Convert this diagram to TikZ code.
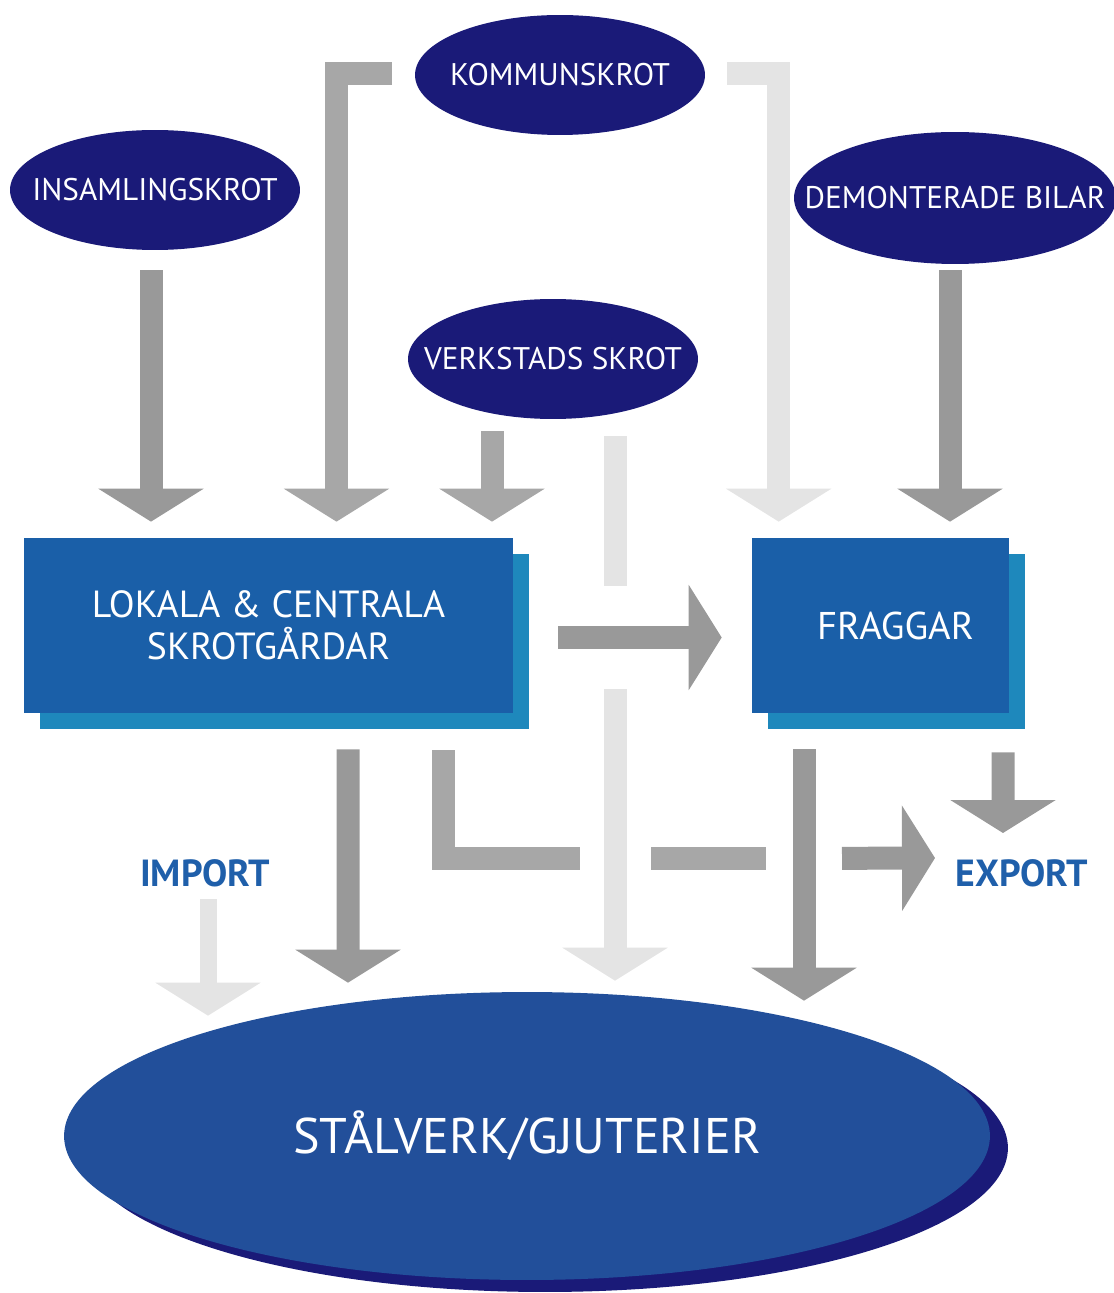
\documentclass[tikz,border=0pt]{standalone}
\usepackage{fontspec}
\setmainfont{PT Sans}
\usepackage{tikz}
\usetikzlibrary{shapes,arrows.meta,calc,shadows}
\definecolor{navy}{RGB}{26,26,120}
\definecolor{boxblue}{RGB}{26,95,168}
\definecolor{boxshade}{RGB}{30,136,188}
\definecolor{bigblue}{RGB}{34,79,154}
\definecolor{labelblue}{RGB}{31,95,170}
\definecolor{grdark}{RGB}{153,153,153}
\definecolor{grmid}{RGB}{167,167,167}
\definecolor{grlight}{RGB}{228,228,228}
\tikzstyle{source}=[ellipse,fill=navy,text=white,inner sep=0pt,minimum width=5.8cm,minimum height=2.4cm,font=\fontsize{17.8}{20}\selectfont]
\tikzstyle{yard}=[rectangle,fill=boxblue,text=white,minimum height=3.5cm,align=center,general shadow={fill=boxshade,shadow xshift=0.32cm,shadow yshift=-0.32cm},font=\fontsize{21.5}{24}\selectfont]
\tikzstyle{fat}=[line width=0.46cm,-{Triangle[length=0.66cm,width=2.08cm]}]
\tikzstyle{bar}=[line width=0.46cm]
\tikzstyle{trade}=[text=labelblue,font=\bfseries\fontsize{21.5}{24}\selectfont]
\tikzset{halo/.style={preaction={draw=white,line width=#1}}}
\newcommand{\nowidth}[1]{\makebox[0pt]{#1}}

\begin{document}
\begin{tikzpicture}[x=0.02cm,y=-0.02cm]
\useasboundingbox (0,0) rectangle (1113,1293);
\node[ellipse,fill=bigblue,text=white,minimum width=18.52cm,minimum height=5.76cm,
  general shadow={fill=navy,shadow xshift=0.36cm,shadow yshift=-0.24cm},
  font=\fontsize{28.5}{32}\selectfont] (stal) at (527,1136) {STÅLVERK/GJUTERIER};
\node[source] (kommun) at (560,75) {\nowidth{KOMMUNSKROT}};
\node[source] (insaml) at (155,190) {\nowidth{INSAMLINGSKROT}};
\node[source,minimum width=6.44cm,minimum height=2.64cm] (demont) at (955,198) {\nowidth{DEMONTERADE BILAR}};
\node[source] (verkst) at (553,359) {\nowidth{VERKSTADS SKROT}};
\node[yard,minimum width=9.78cm] (lokal) at (268.5,625.5) {LOKALA \& CENTRALA\\SKROTGÅRDAR};
\node[yard,minimum width=5.14cm,font=\fontsize{22}{24}\selectfont] (fragg) at (880.5,625.5) {\hspace*{0.6cm}FRAGGAR};
\node[trade] (import) at (205,873) {IMPORT};
\node[trade] (export) at (1022,873) {EXPORT};

% into the yards
\draw[fat,grdark,shorten >=0.32cm] ($(insaml.south)+(-4,20)$) coordinate (a1) -- (a1 |- lokal.north);
\draw[fat,grmid,shorten >=0.32cm] ($(kommun.west)+(-23,-1)$) -| ($(lokal.north)+(68,0)$);
\draw[fat,grmid,shorten >=0.32cm] ($(verkst.south)+(-61,12)$) coordinate (a3) -- (a3 |- lokal.north);
\draw[fat,grlight,shorten >=0.32cm] ($(kommun.east)+(22,-1)$) -| ($(fragg.north west)+(27,0)$);
\draw[fat,grdark,shorten >=0.32cm] ($(demont.south)+(-5,6)$) coordinate (a6) -- (a6 |- fragg.north);

% down to the works
\draw[bar,grmid] ($(lokal.south)+(174.5,37)$) |- ($(fragg.south)+(-38.5,145)$) coordinate (split);
\draw[fat,grlight,halo=1.42cm] ($(verkst.south)+(62,17)$) -- ($(stal.north)+(88,-11)$);
\draw[fat,grdark,halo=2.06cm] ($(lokal.east)+(45,12)$) -- ($(fragg.west)+(-30,12)$);
\draw[fat,grdark,halo=1.52cm] ($(fragg.south)+(-76.5,36)$) -- ($(stal.north)+(277,9)$);
\draw[fat,grdark] (split) -- ($(export.center)+(-87,-15)$);
\draw[fat,grdark] ($(lokal.south)+(79.5,36)$) -- ($(stal.north)+(-179,-9)$);
\draw[fat,grdark] ($(fragg.south)+(122.5,39)$) -- ($(export.center)+(-19,-40)$);
\draw[fat,grlight,line width=0.34cm] ($(import.center)+(3,26)$) -- ($(stal.north)+(-319,24)$);
\end{tikzpicture}
\end{document}
